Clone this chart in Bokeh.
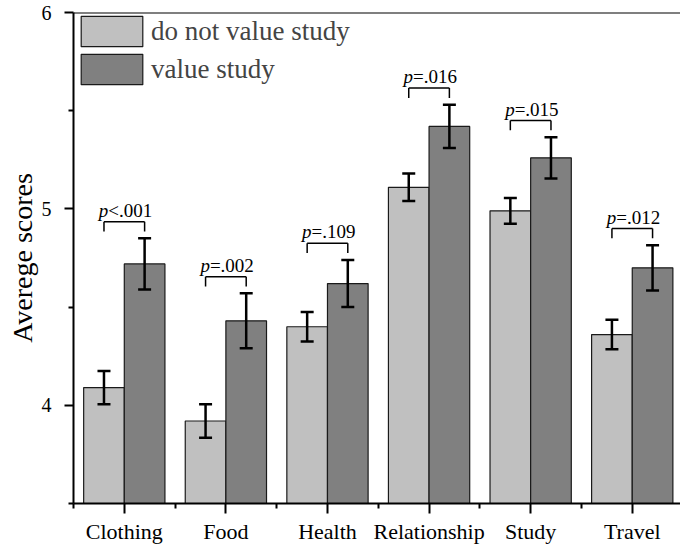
from bokeh.plotting import figure
from bokeh.models import (ColumnDataSource, Whisker, TeeHead, FixedTicker, Span,
                          Legend, LegendItem, Range1d)
from bokeh.core.properties import value
from bokeh.embed import file_html
from bokeh.resources import INLINE

# ---- data ----
categories = ["Clothing", "Food", "Health", "Relationship", "Study", "Travel"]
not_value_mean = [4.09, 3.92, 4.40, 5.11, 4.99, 4.36]
not_value_err = [0.085, 0.085, 0.075, 0.07, 0.065, 0.075]
value_mean = [4.72, 4.43, 4.62, 5.42, 5.26, 4.70]
value_err = [0.13, 0.14, 0.12, 0.11, 0.105, 0.115]
p_values = ["<.001", "=.002", "=.109", "=.016", "=.015", "=.012"]
series_names = ["do not value study", "value study"]
y_ticks = [4, 5, 6]

FONT = "Liberation Serif"
LIGHT = "#c0c0c0"
DARK = "#808080"

xs = list(range(1, len(categories) + 1))
bw = 0.4
x_light = [x - bw / 2 for x in xs]
x_dark = [x + bw / 2 for x in xs]

src_l = ColumnDataSource(dict(x=x_light, top=not_value_mean,
                              upper=[m + e for m, e in zip(not_value_mean, not_value_err)],
                              lower=[m - e for m, e in zip(not_value_mean, not_value_err)]))
src_d = ColumnDataSource(dict(x=x_dark, top=value_mean,
                              upper=[m + e for m, e in zip(value_mean, value_err)],
                              lower=[m - e for m, e in zip(value_mean, value_err)]))

p = figure(width=680, height=547, x_range=Range1d(0.5, 6.475), y_range=Range1d(3.5, 6),
           output_backend="svg", toolbar_location=None,
           min_border_left=73, min_border_right=0, min_border_top=12, min_border_bottom=44)
p.outline_line_color = None
p.xgrid.visible = False
p.ygrid.visible = False
p.background_fill_color = "white"
p.border_fill_color = "white"

r_l = p.vbar(x="x", top="top", bottom=3.5, width=bw, source=src_l,
             fill_color=LIGHT, line_color="#1a1a1a", line_width=1.2)
r_d = p.vbar(x="x", top="top", bottom=3.5, width=bw, source=src_d,
             fill_color=DARK, line_color="#1a1a1a", line_width=1.2)

for src in (src_l, src_d):
    w = Whisker(base="x", upper="upper", lower="lower", source=src,
                line_color="black", line_width=2.5, level="overlay",
                upper_head=TeeHead(size=13, line_width=2.5, line_color="black"),
                lower_head=TeeHead(size=13, line_width=2.5, line_color="black"))
    p.add_layout(w)

# significance brackets
gap, tick_len = 0.035, 0.05
tops_u = [max(a + b, c + d) for a, b, c, d in zip(not_value_mean, not_value_err, value_mean, value_err)]
br_bottom = [t + gap for t in tops_u]
br_top = [b + tick_len for b in br_bottom]
p.segment(x0=x_light, x1=x_dark, y0=br_top, y1=br_top, line_color="black", line_width=1.5)
p.segment(x0=x_light, x1=x_light, y0=br_bottom, y1=br_top, line_color="black", line_width=1.5)
p.segment(x0=x_dark, x1=x_dark, y0=br_bottom, y1=br_top, line_color="black", line_width=1.5)

p.text(x=xs, y=br_top, text=["p"] * len(xs), text_font=value(FONT), text_font_style="italic",
       text_font_size="19px", text_align="right", text_baseline="bottom", x_offset=-16,
       y_offset=-1, text_color="black")
p.text(x=xs, y=br_top, text=p_values, text_font=value(FONT),
       text_font_size="19px", text_align="left", text_baseline="bottom", x_offset=-16,
       y_offset=-1, text_color="black")

# top frame line
p.add_layout(Span(location=6, dimension="width", line_color="black", line_width=2))

# axes
p.yaxis.ticker = FixedTicker(ticks=y_ticks, minor_ticks=[3.5, 4.5, 5.5])
p.xaxis.ticker = FixedTicker(ticks=xs, minor_ticks=[x - 0.5 for x in xs] + [xs[-1] + 0.5])
p.xaxis.major_label_overrides = {x: c for x, c in zip(xs, categories)}

for ax in (p.xaxis[0], p.yaxis[0]):
    ax.axis_line_width = 2
    ax.axis_line_color = "black"
    ax.major_tick_line_width = 2
    ax.minor_tick_line_width = 2
    ax.major_tick_line_color = "black"
    ax.minor_tick_line_color = "black"
    ax.major_tick_in = 0
    ax.minor_tick_in = 0
    ax.major_label_text_font = FONT
    ax.major_label_text_color = "black"
    ax.axis_label_text_font = FONT
    ax.axis_label_text_font_style = "normal"
    ax.axis_label_text_color = "black"

p.xaxis.major_tick_out = 10
p.xaxis.minor_tick_out = 5
p.xaxis.major_label_text_font_size = "22px"
p.xaxis.major_label_standoff = 5

p.yaxis.major_tick_out = 9
p.yaxis.minor_tick_out = 5
p.yaxis.major_label_text_font_size = "20px"
p.yaxis.major_label_standoff = 13
p.yaxis.axis_label = "Averege scores"
p.yaxis.axis_label_text_font_size = "28px"
p.yaxis.axis_label_standoff = 1

legend = Legend(items=[LegendItem(label=series_names[0], renderers=[r_l]),
                       LegendItem(label=series_names[1], renderers=[r_d])],
                location="top_left", margin=0, padding=1, spacing=-4,
                glyph_width=77, glyph_height=38, label_standoff=1,
                label_text_font=FONT, label_text_font_size="27px",
                border_line_color=None, background_fill_alpha=0)
p.add_layout(legend)

with open("out.html", "w") as f:
    f.write(file_html(p, INLINE))
